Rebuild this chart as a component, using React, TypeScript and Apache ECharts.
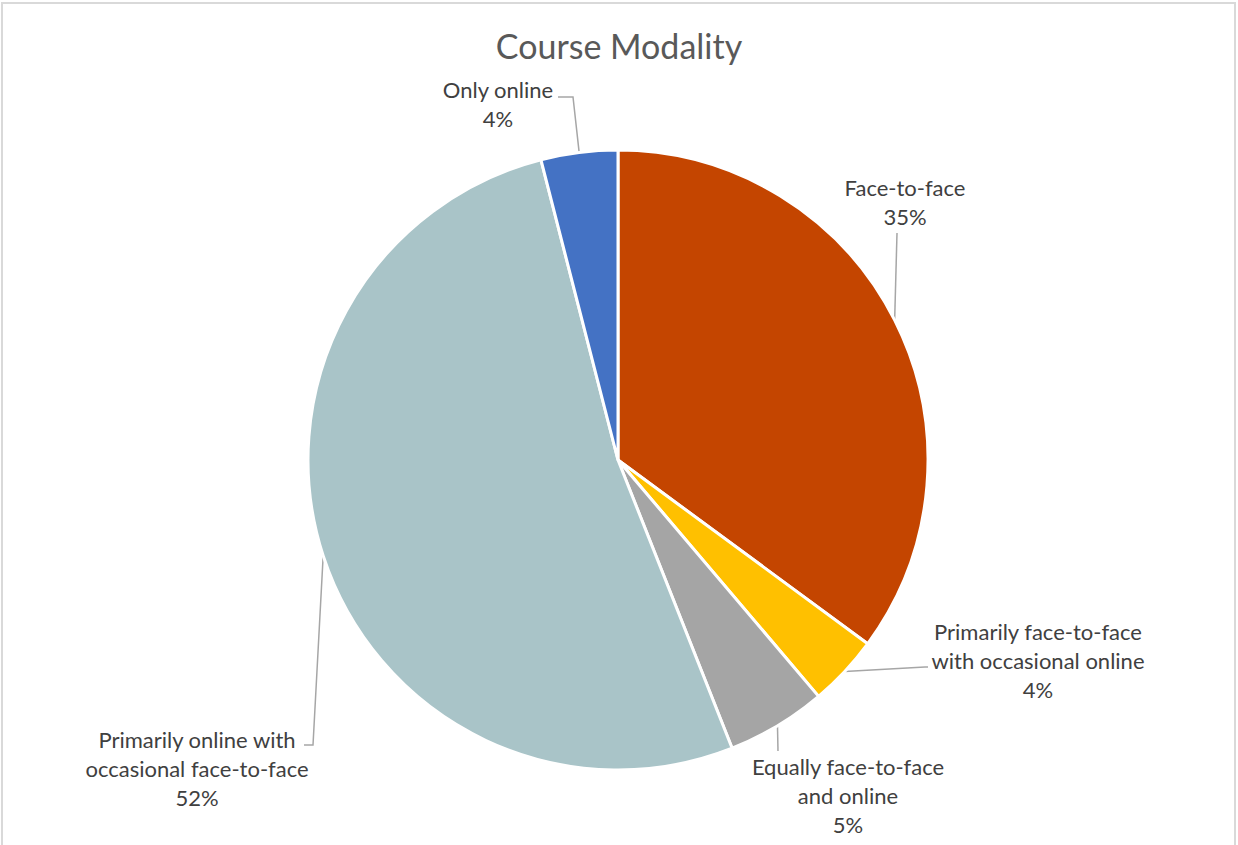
import React, { useEffect, useRef } from "react";
import * as echarts from "echarts";

const categories = [
  "Face-to-face",
  "Primarily face-to-face\nwith occasional online",
  "Equally face-to-face\nand online",
  "Primarily online with\noccasional face-to-face",
  "Only online",
];
const values = [35.1, 3.7, 5.2, 52.0, 4.0];
const colors = ["#C44500", "#FFC000", "#A5A5A5", "#A9C4C8", "#4472C4"];

// layout only: label block centres and leader-line elbows
const labelPositions: [number, number][] = [
  [905, 202],
  [1038, 660],
  [848, 795],
  [197, 768],
  [498, 104],
];
const leaderTails: [number, number][][] = [
  [[897, 233], [897, 233]],
  [[925, 667], [928, 667]],
  [[778, 751], [778, 751]],
  [[313, 745], [304, 745]],
  [[573, 97], [558, 97]],
];

const CX = 618;
const CY = 460;
const R = 310;

export default function App() {
  const ref = useRef<HTMLDivElement>(null);
  useEffect(() => {
    if (!ref.current) return;
    const chart = echarts.init(ref.current, undefined, { renderer: "svg" });
    const total = values.reduce((a, b) => a + b, 0);
    const edgePoint = (i: number): [number, number] => {
      let cum = 0;
      for (let k = 0; k < i; k++) cum += values[k];
      cum += values[i] / 2;
      const a = (cum / total) * Math.PI * 2;
      return [CX + R * Math.sin(a), CY - R * Math.cos(a)];
    };
    chart.setOption({
      animation: false,
      backgroundColor: "#ffffff",
      title: {
        text: "Course Modality",
        left: "center",
        top: 23,
        textStyle: {
          fontFamily: "Lato",
          fontSize: 34,
          fontWeight: "normal",
          color: "#595959",
        },
      },
      graphic: [
        {
          type: "rect",
          shape: { x: 2, y: 3, width: 1233, height: 850 },
          style: { fill: "none", stroke: "#D9D9D9", lineWidth: 2 },
          silent: true,
        },
      ],
      series: [
        {
          type: "pie",
          center: [CX, CY],
          radius: R,
          startAngle: 90,
          clockwise: true,
          percentPrecision: 0,
          itemStyle: { borderColor: "#ffffff", borderWidth: 3 },
          label: {
            show: true,
            formatter: "{b}\n{d}%",
            fontFamily: "Lato",
            fontSize: 22,
            lineHeight: 29,
            color: "#404040",
            align: "center",
          },
          labelLine: {
            show: true,
            length: 10,
            length2: 12,
            lineStyle: { color: "#A6A6A6", width: 1.5 },
          },
          labelLayout: (params: any) => {
            const i = params.dataIndex;
            const p = labelPositions[i];
            return {
              x: p[0],
              y: p[1],
              align: "center",
              verticalAlign: "middle",
              labelLinePoints: [edgePoint(i), ...leaderTails[i]],
            };
          },
          data: categories.map((name, i) => ({
            name,
            value: values[i],
            itemStyle: { color: colors[i] },
          })),
        },
      ],
    });
    return () => chart.dispose();
  }, []);
  return (
    <div
      ref={ref}
      style={{ position: "fixed", left: 0, top: 0, width: 1238, height: 845 }}
    />
  );
}
